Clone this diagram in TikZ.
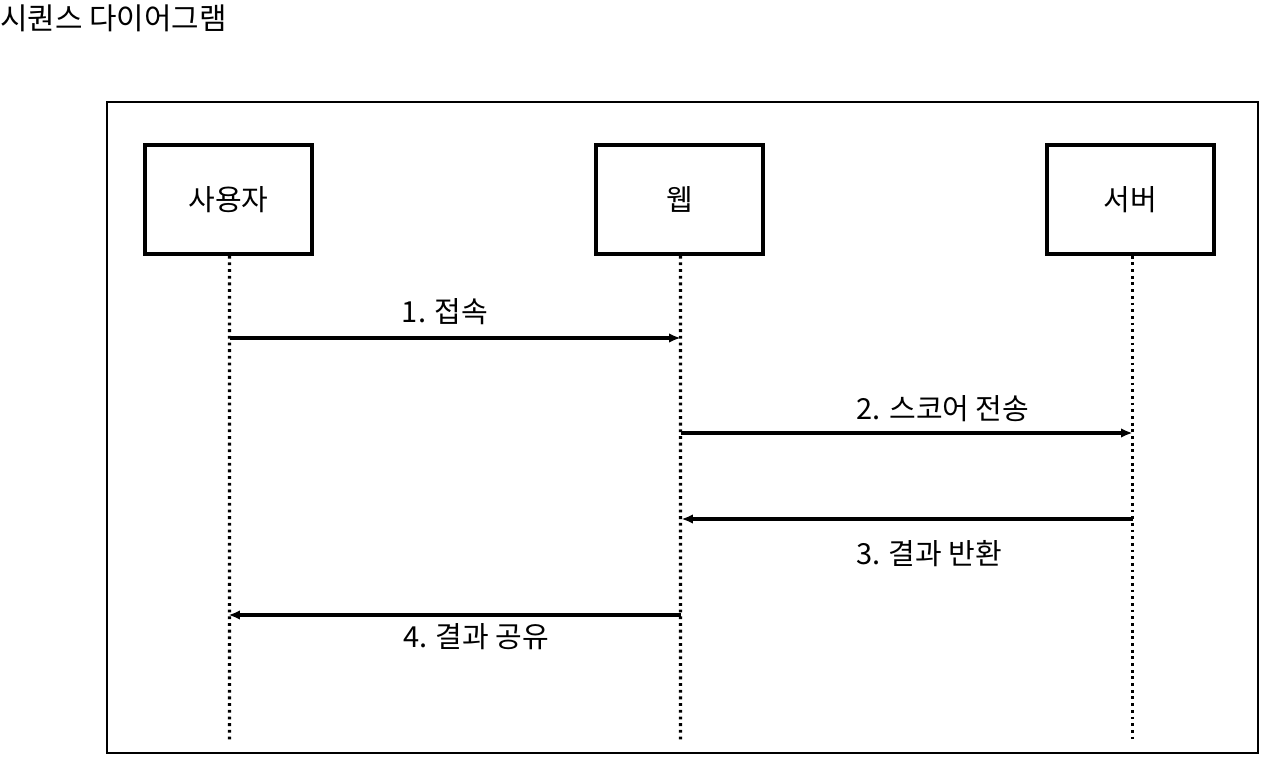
\documentclass[tikz,border=0pt]{standalone}
\usepackage{fontspec}
\setmainfont{Noto Sans CJK KR}
\usepackage{tikz}
\usetikzlibrary{arrows.meta,positioning,calc}

\tikzset{
  actor/.style={draw, line width=2pt, minimum width=3.34cm, minimum height=2.18cm, font=\fontsize{16.5}{19}\selectfont},
  lifeline/.style={line width=1.8pt, dash pattern=on 1.6pt off 2.2pt},
  msg/.style={line width=1.9pt, -{Latex[length=6.5pt,width=5.5pt]}},
  msglabel/.style={font=\fontsize{16.5}{19}\selectfont}
}

\begin{document}
\begin{tikzpicture}
        \useasboundingbox (0,0) rectangle (25.52,-15.22);
        % Title
        \node[font=\fontsize{17}{19}\selectfont, anchor=west, inner sep=0pt] (title) at (0,-0.36) {시퀀스 다이어그램};
        % Frame
        \draw[line width=1.5pt] (2.14,-2.04) rectangle (25.16,-15.06);
        % Participants
        \node[actor] (user) at (4.57,-3.99) {사용자};
        \node[actor] (web) at (13.59,-3.99) {웹};
        \node[actor] (server) at (22.61,-3.99) {서버};
        % Lifelines
        \coordinate (userEnd) at (4.59,-14.8);
        \coordinate (webEnd) at (13.61,-14.8);
        \coordinate (serverEnd) at (22.65,-14.8);
        \draw[lifeline] ($(user.south)+(0.02,0)$) -- (userEnd);
        \draw[lifeline] ($(web.south)+(0.02,0)$) -- (webEnd);
        \draw[lifeline] ($(server.south)+(0.04,0)$) -- (serverEnd);
        % Message points
        \coordinate (u1) at (4.59,-6.76);
        \coordinate (w1) at (13.61,-6.76);
        \coordinate (w2) at (13.61,-8.66);
        \coordinate (s2) at (22.65,-8.66);
        \coordinate (s3) at (22.65,-10.38);
        \coordinate (w3) at (13.63,-10.38);
        \coordinate (w4) at (13.61,-12.30);
        \coordinate (u4) at (4.57,-12.30);
        % Messages
        \draw[msg] (u1) -- (w1);
        \node[msglabel] (m1) at (8.9,-6.24) {1. 접속};
        \draw[msg] (w2) -- (s2);
        \node[msglabel] (m2) at (18.86,-8.18) {2. 스코어 전송};
        \draw[msg] (s3) -- (w3);
        \node[msglabel] (m3) at (18.58,-11.08) {3. 결과 반환};
        \draw[msg] (w4) -- (u4);
        \node[msglabel] (m4) at (9.52,-12.74) {4. 결과 공유};
      \end{tikzpicture}
\end{document}
